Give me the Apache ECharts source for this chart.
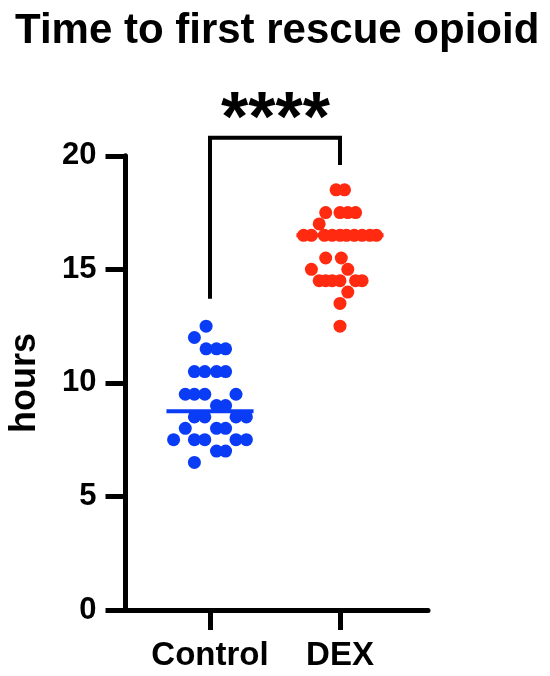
<!DOCTYPE html>
<html>
<head>
<meta charset="utf-8">
<script src="https://cdn.jsdelivr.net/npm/echarts@6/dist/echarts.min.js"></script>
<style>
html,body{margin:0;padding:0;background:#fff;}
#chart{width:550px;height:676px;}
</style>
</head>
<body>
<div id="chart"></div>
<script>
const titleText = 'Time to first rescue opioid';
const yAxisName = 'hours';
const categories = ['Control', 'DEX'];
const yTicks = [0, 5, 10, 15, 20];
const significance = '****';

// Control values (hours) and horizontal swarm jitter (category units)
const controlValues = [12.5, 12, 11.5, 11.5, 11.5, 10.5, 10.5, 10.5, 10.5, 9.5, 9.5, 9.5, 9.5, 9, 9,
  8.5, 8.5, 8.5, 8.5, 8, 8, 8, 7.5, 7.5, 7.5, 7.5, 7.5, 7, 7, 6.5];
const controlJitter = [-0.03, -0.12, -0.03, 0.05, 0.12, -0.12, -0.04, 0.05, 0.12, -0.19, -0.12, -0.04, 0.20, 0.05, 0.12,
  -0.12, -0.04, 0.20, 0.28, -0.19, 0.05, 0.12, -0.28, -0.12, -0.04, 0.20, 0.28, 0.05, 0.12, -0.12];

// DEX values (hours) and horizontal swarm jitter
const dexValues = [18.5, 18.5, 17.5, 17.5, 17.5, 17.5, 17, 16.5, 16.5, 16.5, 16.5, 16.5, 16.5, 16.5, 16.5, 16.5, 16.5,
  15.5, 15.5, 15, 15, 14.5, 14.5, 14.5, 14.5, 14.5, 14.5, 14, 13.5, 12.5];
const dexJitter = [-0.03, 0.035, -0.11, 0.0, 0.06, 0.12, -0.16, -0.28, -0.22, -0.12, -0.06, 0.0, 0.05, 0.11, 0.17, 0.23, 0.28,
  -0.11, 0.01, -0.22, 0.06, -0.16, -0.11, -0.06, 0.0, 0.12, 0.17, 0.06, 0.0, 0.0];

// significance bracket (hours)
const bracketLeftEnd = 13.7;
const bracketTop = 20.8;
const bracketRightEnd = 19.6;

const medianHalfWidth = 0.335;
const blue = '#0A3CF6';
const red = '#FF2A10';
const font = '"Liberation Sans", Arial, sans-serif';

function median(arr) {
  const s = arr.slice().sort((a, b) => a - b);
  const n = s.length;
  return n % 2 ? s[(n - 1) / 2] : (s[n / 2 - 1] + s[n / 2]) / 2;
}
function points(values, jitter, idx) {
  return values.map((v, i) => [idx + jitter[i], v]);
}
const controlMedian = median(controlValues);
const dexMedian = median(dexValues);

const chart = echarts.init(document.getElementById('chart'), null, {renderer: 'canvas'});
chart.setOption({
  animation: false,
  backgroundColor: '#fff',
  title: {
    text: titleText,
    left: 10,
    top: 5,
    textStyle: {fontFamily: font, fontWeight: 'bold', fontSize: 42, color: '#000'}
  },
  grid: {left: 125.5, right: 122, top: 155.8, bottom: 66, containLabel: false, outerBoundsMode: 'none'},
  xAxis: {
    type: 'value',
    min: -0.65,
    max: 1.677,
    splitLine: {show: false},
    axisLine: {show: true, onZero: false, lineStyle: {color: '#000', width: 5}},
    axisTick: {show: true, customValues: [0, 1], length: 20, lineStyle: {color: '#000', width: 5}},
    axisLabel: {
      show: true,
      customValues: [0, 1],
      formatter: v => categories[Math.round(v)],
      margin: 29,
      fontFamily: font, fontWeight: 'bold', fontSize: 33, color: '#000'
    }
  },
  yAxis: {
    type: 'value',
    min: 0,
    max: 20,
    interval: 5,
    name: yAxisName,
    nameLocation: 'middle',
    nameRotate: 90,
    nameGap: 82,
    nameTextStyle: {fontFamily: font, fontWeight: 'bold', fontSize: 36, color: '#000'},
    splitLine: {show: false},
    axisLine: {show: true, onZero: false, lineStyle: {color: '#000', width: 5}},
    axisTick: {show: true, length: 20, lineStyle: {color: '#000', width: 5}},
    axisLabel: {
      margin: 29,
      formatter: v => (yTicks.indexOf(v) >= 0 ? String(v) : ''),
      fontFamily: font, fontWeight: 'bold', fontSize: 31, color: '#000'
    }
  },
  series: [
    {
      type: 'scatter', name: categories[0], symbol: 'circle', symbolSize: 13,
      itemStyle: {color: blue, opacity: 1}, data: points(controlValues, controlJitter, 0), z: 2
    },
    {
      type: 'scatter', name: categories[1], symbol: 'circle', symbolSize: 13,
      itemStyle: {color: red, opacity: 1}, data: points(dexValues, dexJitter, 1), z: 2
    },
    {
      type: 'line', symbol: 'none', z: 3,
      lineStyle: {color: blue, width: 4},
      data: [[-medianHalfWidth, controlMedian], [medianHalfWidth, controlMedian]]
    },
    {
      type: 'line', symbol: 'none', z: 3,
      lineStyle: {color: red, width: 4},
      data: [[1 - medianHalfWidth, dexMedian], [1 + medianHalfWidth, dexMedian]]
    },
    {
      type: 'line', symbol: 'none', clip: false, z: 4,
      lineStyle: {color: '#000', width: 4, join: 'miter', cap: 'butt'},
      data: [[0, bracketLeftEnd], [0, bracketTop], [1, bracketTop], [1, bracketRightEnd]]
    }
  ],
  graphic: [
    {
      type: 'text',
      left: 221,
      top: 87,
      style: {
        text: significance,
        font: 'bold 70px "Liberation Sans", Arial, sans-serif',
        fill: '#000'
      }
    }
  ]
});
</script>
</body>
</html>
